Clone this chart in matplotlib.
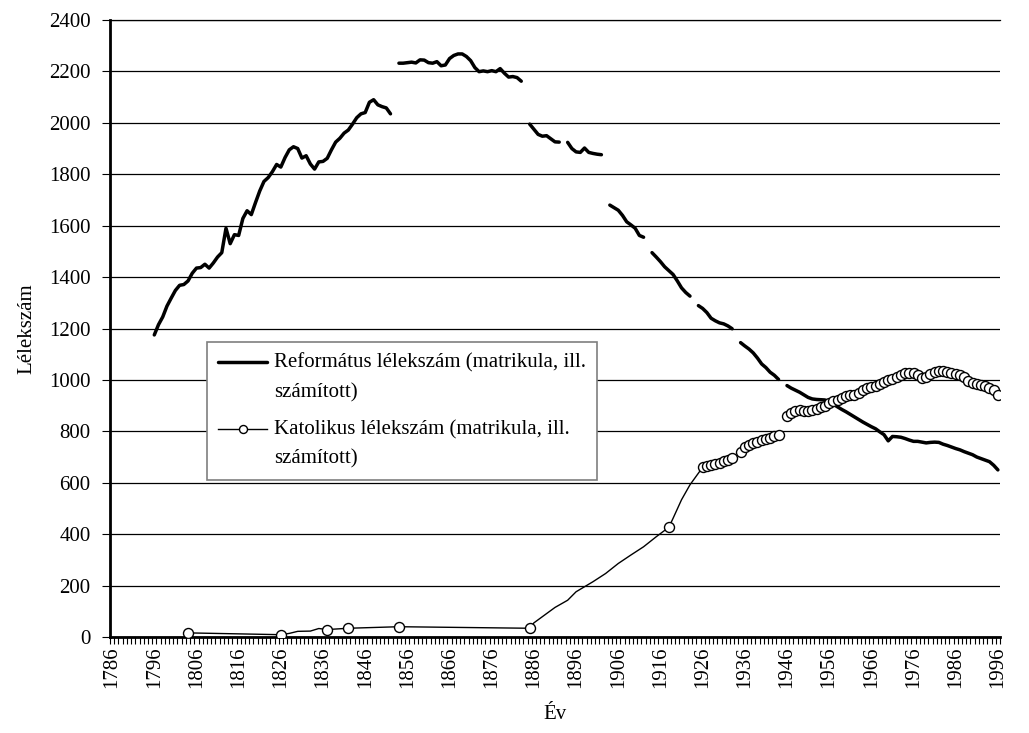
import numpy as np
import matplotlib
matplotlib.use("Agg")
import matplotlib.pyplot as plt
from matplotlib.legend_handler import HandlerLine2D

nan = np.nan

# Református lélekszám, yearly values 1796..1996 (nan = missing year)
reform_start = 1796
reform_values = [
    # 1796-1852
    1175, 1215, 1245, 1287, 1318, 1348, 1368, 1371, 1385, 1415,
    1435, 1437, 1450, 1435, 1455, 1478, 1495, 1590, 1530, 1565,
    1562, 1628, 1658, 1643, 1690, 1735, 1772, 1787, 1810, 1838,
    1828, 1865, 1895, 1907, 1900, 1863, 1872, 1840, 1820, 1848,
    1850, 1862, 1895, 1925, 1940, 1960, 1972, 1995, 2020, 2035,
    2040, 2080, 2090, 2070, 2063, 2058, 2035,
    nan,  # 1853
    # 1854-1883
    2232, 2232, 2234, 2236, 2233, 2245, 2244, 2234, 2232, 2238,
    2222, 2225, 2250, 2262, 2268, 2268, 2258, 2242, 2215, 2199,
    2202, 2199, 2203, 2199, 2211, 2193, 2178, 2180, 2176, 2162,
    nan,  # 1884
    # 1885-1892
    1995, 1975, 1955, 1948, 1950, 1938, 1926, 1925,
    nan,  # 1893
    # 1894-1902
    1924, 1900, 1887, 1885, 1902, 1885, 1881, 1878, 1876,
    nan,  # 1903
    # 1904-1912
    1680, 1670, 1660, 1640, 1615, 1603, 1590, 1562, 1555,
    nan,  # 1913
    # 1914-1923
    1495, 1478, 1460, 1440, 1425, 1410, 1385, 1358, 1340, 1326,
    nan,  # 1924
    # 1925-1933
    1289, 1278, 1262, 1240, 1230, 1222, 1218, 1210, 1199,
    nan,  # 1934
    # 1935-1944
    1145, 1132, 1120, 1105, 1085, 1062, 1048, 1030, 1018, 1002,
    nan,  # 1945
    # 1946-1996
    978, 968, 960, 952, 942, 932, 926, 924, 923, 922,
    912, 905, 895, 885, 876, 866, 856, 846, 836, 827,
    818, 810, 798, 787, 763, 780, 779, 777, 772, 766,
    761, 761, 758, 755, 757, 758, 757, 750, 745, 739,
    733, 728, 721, 715, 709, 700, 694, 688, 682, 668,
    650,
]

# Katolikus lélekszám
cat_early_years = [1804, 1826, 1828, 1830, 1833, 1835, 1837, 1842, 1854, 1885,
                   1886, 1889, 1891, 1894, 1896, 1900, 1903, 1906, 1909, 1912,
                   1915, 1918, 1919, 1921, 1923]
cat_early_values = [16, 9, 14, 22, 23, 33, 29, 34, 40, 34,
                    55, 91, 115, 143, 176, 215, 247, 286, 319, 351,
                    390, 427, 462, 534, 592]
cat_early_marked = [1804, 1826, 1837, 1842, 1854, 1885, 1918]
cat_late_start = 1926
cat_late_values = [
    # 1926-1933
    660, 664, 668, 673, 678, 684, 690, 698,
    nan,  # 1934
    # 1935-1944
    718, 738, 748, 755, 760, 765, 770, 776, 782, 786,
    nan,  # 1945
    # 1946-1996
    861, 870, 878, 883, 881, 880, 882, 886, 893, 900,
    910, 917, 922, 930, 936, 941, 942, 950, 960, 967,
    972, 976, 983, 990, 999, 1005, 1012, 1020, 1026, 1028,
    1028, 1018, 1008, 1013, 1022, 1030, 1033, 1033, 1032, 1028,
    1024, 1018, 1011, 995, 988, 985, 982, 976, 970, 960,
    940,
]

x_tick_years = list(range(1786, 1997, 10))
y_ticks = list(range(0, 2401, 200))

legend_labels = ["Református lélekszám (matrikula, ill.\nszámított)",
                 "Katolikus lélekszám (matrikula, ill.\nszámított)"]
x_label = "Év"
y_label = "Lélekszám"


class FirstLineHandler(HandlerLine2D):
    """Place the legend sample level with the first line of a 2-line label."""

    def __init__(self, shift, **kw):
        super().__init__(**kw)
        self.shift = shift

    def create_artists(self, legend, orig_handle, xdescent, ydescent,
                       width, height, fontsize, trans):
        arts = super().create_artists(legend, orig_handle, xdescent, ydescent,
                                      width, height, fontsize, trans)
        for a in arts:
            a.set_ydata(np.asarray(a.get_ydata(), float) + self.shift)
        return arts


# ---------------------------------------------------------------
plt.rcParams["font.family"] = ["Liberation Serif", "DejaVu Serif"]
plt.rcParams["font.size"] = 15

fig = plt.figure(figsize=(10.29, 7.33), dpi=100)
ax = fig.add_axes([110 / 1029, 1 - 637 / 733, 890 / 1029, 617 / 733])

ref_years = np.arange(reform_start, reform_start + len(reform_values))
ref_vals = np.array(reform_values, dtype=float)
l1, = ax.plot(ref_years, ref_vals, color="black", lw=2.5,
              solid_capstyle="round", solid_joinstyle="round", zorder=3,
              label=legend_labels[0])

late_years = np.arange(cat_late_start, cat_late_start + len(cat_late_values))
cat_years = np.concatenate([cat_early_years, late_years])
cat_vals = np.concatenate([np.array(cat_early_values, float),
                           np.array(cat_late_values, float)])
marked = [i for i, (y, v) in enumerate(zip(cat_years, cat_vals))
          if (y in cat_early_marked or y >= cat_late_start) and not np.isnan(v)]
l2, = ax.plot(cat_years, cat_vals, color="black", lw=1.0, marker="o", ms=7.2,
              mfc="white", mec="black", mew=1.0, markevery=marked, zorder=4,
              label=legend_labels[1])

ax.set_xlim(1785.5, 1996.5)
ax.set_ylim(0, 2400)
ax.set_yticks(y_ticks)
ax.set_xticks(x_tick_years)
ax.set_xticks(np.arange(1785.5, 1997, 1.0), minor=True)
ax.tick_params(axis="x", which="major", length=0, pad=7, rotation=90,
               labelsize=15)
ax.tick_params(axis="x", which="minor", length=5, width=0.8, direction="out")
ax.tick_params(axis="y", which="major", length=6, width=0.8, direction="out",
               pad=8, labelsize=15)

ax.grid(axis="y", color="black", lw=0.9)
ax.set_axisbelow(True)
ax.spines["right"].set_visible(False)
ax.spines["top"].set_linewidth(0.9)
ax.spines["left"].set_linewidth(2.0)
ax.spines["bottom"].set_linewidth(2.0)

ax.set_xlabel(x_label, fontsize=15, labelpad=12)
ax.set_ylabel(y_label, fontsize=15, labelpad=9)

leg = ax.legend(handles=[l1, l2], loc="upper left",
                bbox_to_anchor=(0.109, 0.478),
                borderaxespad=0, frameon=True, fancybox=False,
                edgecolor="#7f7f7f", framealpha=1, handlelength=2.35,
                handletextpad=0.3, labelspacing=0.85, borderpad=0.55,
                markerscale=0.8, fontsize=15,
                handler_map={l1: FirstLineHandler(11.3),
                             l2: FirstLineHandler(11.3)})
leg.get_frame().set_linewidth(1.2)
for t in leg.get_texts():
    t.set_linespacing(1.72)

fig.savefig("out.png", dpi=100)
